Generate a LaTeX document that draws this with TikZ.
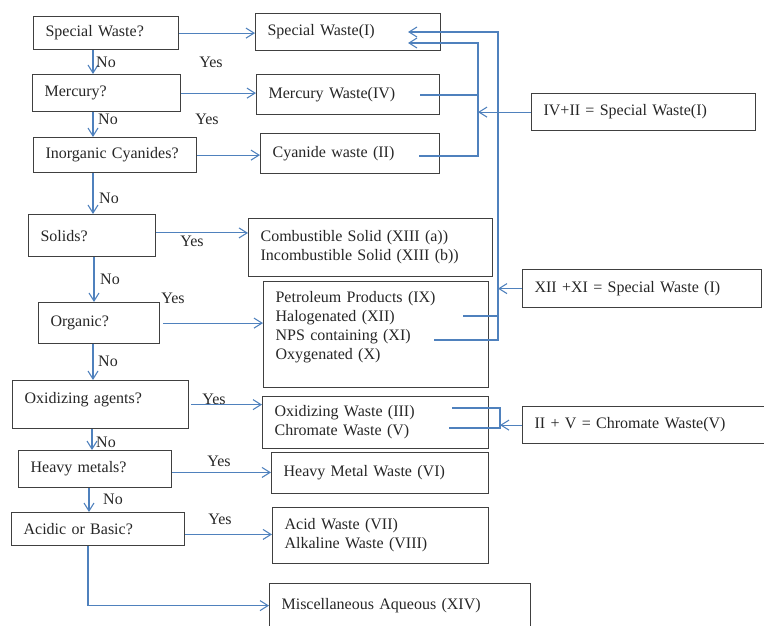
\documentclass[tikz,border=0pt]{standalone}
\usepackage{fontspec}
\setmainfont{Liberation Serif}
\usetikzlibrary{arrows.meta}
\newlength{\px}
\setlength{\px}{0.75pt}
\definecolor{flecha}{RGB}{79,129,189}
\definecolor{borde}{RGB}{64,64,64}
\definecolor{texto}{RGB}{38,38,38}

\begin{document}
\begin{tikzpicture}[x=0.75pt, y=-0.75pt,
    every node/.style={font=\fontsize{12}{14.3}\selectfont, text=texto},
    caja/.style={draw=borde, line width=0.9pt, align=left, anchor=north west, inner xsep=12\px, inner ysep=0pt},
    flujo/.style={draw=flecha, line width=0.8pt},
    flujoar/.style={flujo, -{Straight Barb[length=6pt, width=7.5pt]}}]
    \useasboundingbox (0,0) rectangle (764,625);
    \clip (0,0) rectangle (764,625);

    % Preguntas
    \node[caja, text width=121\px, minimum height=33\px] (sw) at (33,16) {Special Waste?};
    \node[caja, text width=124\px, minimum height=37\px] (hg) at (32,74) {Mercury?};
    \node[caja, text width=139\px, minimum height=35\px] (cn) at (33,137) {Inorganic Cyanides?};
    \node[caja, text width=103\px, minimum height=42\px] (sol) at (28,214) {Solids?};
    \node[caja, text width=97\px, minimum height=41\px] (org) at (38,302) {Organic?};
    \node[caja, text width=152\px, minimum height=48\px, text depth=10pt] (oxa) at (12,380) {Oxidizing agents?};
    \node[caja, text width=129\px, minimum height=37\px] (hvy) at (18,450) {Heavy metals?};
    \node[caja, text width=149\px, minimum height=33\px] (acb) at (11,512) {Acidic or Basic?};

    % Tipos de residuo
    \node[caja, text width=161\px, minimum height=37\px] (swI) at (255,13) {Special Waste(I)};
    \node[caja, text width=159\px, minimum height=40\px] (hgW) at (256,74) {Mercury Waste(IV)};
    \node[caja, text width=155\px, minimum height=40\px] (cnW) at (260,133) {Cyanide waste (II)};
    \node[caja, text width=220\px, minimum height=58\px] (solW) at (248,218)
        {Combustible Solid (XIII (a))\\Incombustible Solid (XIII (b))};
    \node[caja, text width=201\px, minimum height=106\px] (orgW) at (263,281)
        {Petroleum Products (IX)\\Halogenated (XII)\\NPS containing (XI)\\Oxygenated (X)\\\mbox{}};
    \node[caja, text width=202\px, minimum height=52\px] (oxW) at (262,396)
        {Oxidizing Waste (III)\\Chromate Waste (V)};
    \node[caja, text width=193\px, minimum height=41\px] (hvyW) at (271,452) {Heavy Metal Waste (VI)};
    \node[caja, text width=192\px, minimum height=56\px] (acbW) at (272,507)
        {Acid Waste (VII)\\Alkaline Waste (VIII)};
    \node[caja, text width=237\px, minimum height=44\px] (misW) at (269,583) {Miscellaneous Aqueous (XIV)};

    % Sumas
    \node[caja, text width=200\px, minimum height=37\px] (sumA) at (531,93) {IV+II = Special Waste(I)};
    \node[caja, text width=215\px, minimum height=38\px] (sumB) at (522,269) {XII +XI = Special Waste (I)};
    \node[caja, text width=229\px, minimum height=37\px] (sumC) at (522,406) {II + V = Chromate Waste(V)};

    % Puntos auxiliares
    \coordinate (col) at (93,0);
    \coordinate (bus1) at (478,0);
    \coordinate (bus2) at (498,0);
    \coordinate (bus3) at (500,0);
    \coordinate (t1) at (408,43);
    \coordinate (t2) at (408,32);
    \coordinate (hgEnd) at (420,95);
    \coordinate (cnEnd) at (419,156);
    \coordinate (halEnd) at (463,316);
    \coordinate (npsEnd) at (434,340);
    \coordinate (oxEnd) at (452,408);
    \coordinate (crEnd) at (449,428);

    % Flechas hacia abajo (No)
    \draw[flujoar] (sw.south -| col) -- (hg.north -| col);
    \draw[flujoar] (hg.south -| col) -- (cn.north -| col);
    \draw[flujoar] (cn.south -| col) -- (sol.north -| col);
    \draw[flujoar] ([xshift=0.75pt]sol.south -| col) -- ([xshift=0.75pt]org.north -| col);
    \draw[flujoar] (org.south -| col) -- (oxa.north -| col);
    \draw[flujoar] ([xshift=-0.75pt]oxa.south -| col) -- ([xshift=-0.75pt]hvy.north -| col);
    \draw[flujoar] ([xshift=-3pt]hvy.south -| col) -- ([xshift=-3pt]acb.north -| col);
    \draw[flujoar] ([xshift=-3.75pt]acb.south -| col) |- (misW.west);

    % Flechas a la derecha (Yes)
    \draw[flujoar] (sw.east) -- (sw.east -| swI.west);
    \draw[flujoar] (hg.east) -- (hg.east -| hgW.west);
    \draw[flujoar] (cn.east) -- (cn.east -| cnW.west);
    \draw[flujoar] ([yshift=2pt]sol.east) -- ([yshift=2pt]sol.east -| solW.west);
    \draw[flujoar] ([xshift=2pt]org.east) -- (org.east -| orgW.west);
    \draw[flujoar] ([xshift=1.5pt]oxa.east) -- (oxa.east -| oxW.west);
    \draw[flujoar] ([yshift=-2.5pt]hvy.east) -- ([yshift=-2.5pt]hvy.east -| hvyW.west);
    \draw[flujoar] ([yshift=-4pt]acb.east) -- ([yshift=-4pt]acb.east -| acbW.west);

    % Uniones
    \draw[flujo] (hgEnd) -- (hgEnd -| bus1);
    \draw[flujoar] (cnEnd) -| (bus1 |- t1) -- (t1);
    \draw[flujoar] (sumA.west) -- (sumA.west -| bus1);
    \draw[flujo] (halEnd) -- (halEnd -| bus2);
    \draw[flujoar] (npsEnd) -| (bus2 |- t2) -- (t2);
    \draw[flujoar] (sumB.west) -- (sumB.west -| bus2);
    \draw[flujo] (oxEnd) -| (bus3 |- crEnd) -- (crEnd);
    \draw[flujoar] (sumC.west) -- (sumC.west -| bus3);

    % Etiquetas
    \node (no1) at (106,62) {No};
    \node (no2) at (108,119) {No};
    \node (no3) at (109,198) {No};
    \node (no4) at (110,279) {No};
    \node (no5) at (108,361) {No};
    \node (no6) at (106,442) {No};
    \node (no7) at (113,499) {No};
    \node (si1) at (211,62) {Yes};
    \node (si2) at (207,119) {Yes};
    \node (si3) at (192,241) {Yes};
    \node (si4) at (173,298) {Yes};
    \node (si5) at (214,399) {Yes};
    \node (si6) at (219,461) {Yes};
    \node (si7) at (220,519) {Yes};
\end{tikzpicture}
\end{document}
